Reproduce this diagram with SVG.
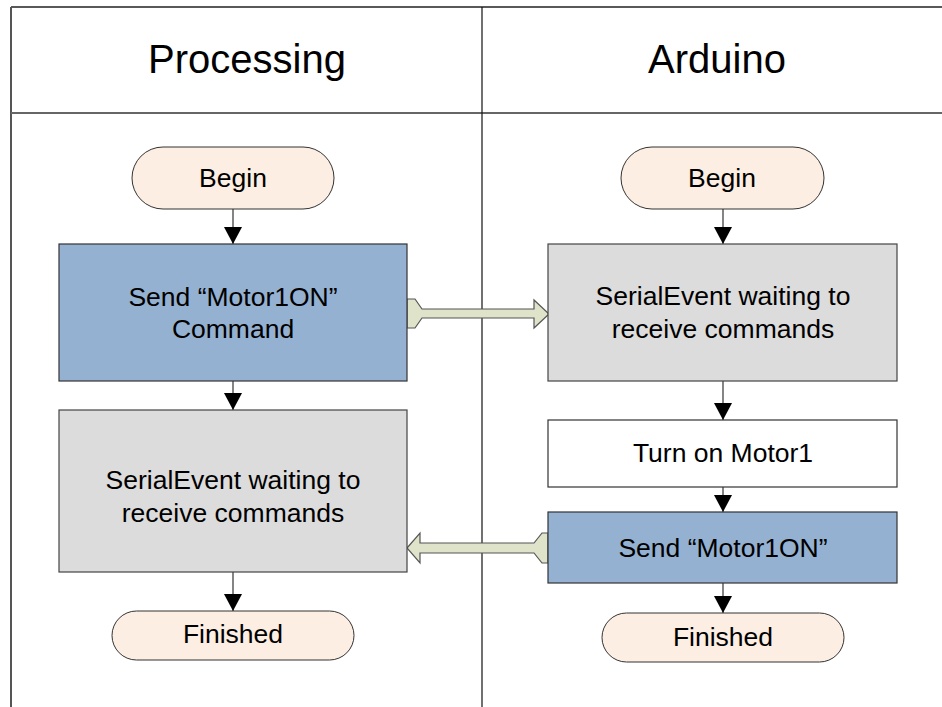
<svg xmlns="http://www.w3.org/2000/svg" width="942" height="707" viewBox="0 0 942 707">
<style>
text{font-family:"Liberation Sans",Arial,sans-serif;fill:#000;text-anchor:middle}
.hdr{font-size:40px}
.t{font-size:26.5px}
.term{fill:#FCEEE2;stroke:#333;stroke-width:1}
.blue{fill:#95B1D1;stroke:#333;stroke-width:1.2}
.gray{fill:#DCDCDC;stroke:#444;stroke-width:1.2}
.white{fill:#fff;stroke:#333;stroke-width:1.2}
.conn{stroke:#333;stroke-width:1.2;fill:none}
.broad{fill:#DEE3C9;stroke:#555;stroke-width:1.2;stroke-linejoin:miter}
</style>
<defs>
<marker id="ah" markerWidth="19" markerHeight="18" refX="18" refY="9.5" orient="auto" markerUnits="userSpaceOnUse" viewBox="0 0 18 19">
<path d="M0,0 L18,9.5 L0,19 Z" fill="#000"/>
</marker>
</defs>
<rect width="942" height="707" fill="#fff"/>
<g id="lanes">
<line x1="11" y1="7" x2="942" y2="7" stroke="#222" stroke-width="1.5"/>
<line x1="11" y1="7" x2="11" y2="707" stroke="#555" stroke-width="2"/>
<line x1="11" y1="113" x2="942" y2="113" stroke="#666" stroke-width="2"/>
<line x1="482" y1="7" x2="482" y2="707" stroke="#111" stroke-width="1.2"/>
<text class="hdr" x="247" y="73">Processing</text>
<text class="hdr" x="717" y="73">Arduino</text>
</g>
<g id="connectors">
<line class="conn" x1="233" y1="209" x2="233" y2="244" marker-end="url(#ah)"/>
<line class="conn" x1="233" y1="381" x2="233" y2="410" marker-end="url(#ah)"/>
<line class="conn" x1="233" y1="572" x2="233" y2="611" marker-end="url(#ah)"/>
<line class="conn" x1="723" y1="209" x2="723" y2="244" marker-end="url(#ah)"/>
<line class="conn" x1="723" y1="381" x2="723" y2="420" marker-end="url(#ah)"/>
<line class="conn" x1="723" y1="487" x2="723" y2="512" marker-end="url(#ah)"/>
<line class="conn" x1="723" y1="583" x2="723" y2="613" marker-end="url(#ah)"/>
<polygon class="broad" points="407,299 415,299 422,309 534,309 534,300 549,314 534,328 534,318 422,318 415,328 407,328"/>
<polygon class="broad" points="407,548 420,533 420,543 534,543 542,533 548,533 548,563 542,563 534,553 420,553 420,563"/>
</g>
<g id="p_begin">
<rect class="term" x="132" y="147" width="202" height="62" rx="31"/>
<text class="t" x="233" y="187">Begin</text>
</g>
<g id="p_send">
<rect class="blue" x="59" y="244" width="348" height="137"/>
<text class="t" x="233" y="306">Send “Motor1ON”</text>
<text class="t" x="233" y="338">Command</text>
</g>
<g id="p_serial">
<rect class="gray" x="59" y="410" width="348" height="162"/>
<text class="t" x="233" y="489">SerialEvent waiting to</text>
<text class="t" x="233" y="522">receive commands</text>
</g>
<g id="p_finished">
<rect class="term" x="112" y="611" width="242" height="49" rx="24.5"/>
<text class="t" x="233" y="643">Finished</text>
</g>
<g id="a_begin">
<rect class="term" x="621" y="147" width="203" height="62" rx="31"/>
<text class="t" x="722" y="187">Begin</text>
</g>
<g id="a_serial">
<rect class="gray" x="548" y="244" width="349" height="137"/>
<text class="t" x="723" y="305">SerialEvent waiting to</text>
<text class="t" x="723" y="338">receive commands</text>
</g>
<g id="a_turn">
<rect class="white" x="548" y="420" width="349" height="67"/>
<text class="t" x="723" y="462">Turn on Motor1</text>
</g>
<g id="a_send">
<rect class="blue" x="548" y="512" width="349" height="71"/>
<text class="t" x="723" y="557">Send “Motor1ON”</text>
</g>
<g id="a_finished">
<rect class="term" x="602" y="613" width="242" height="49" rx="24.5"/>
<text class="t" x="723" y="646">Finished</text>
</g>
</svg>
